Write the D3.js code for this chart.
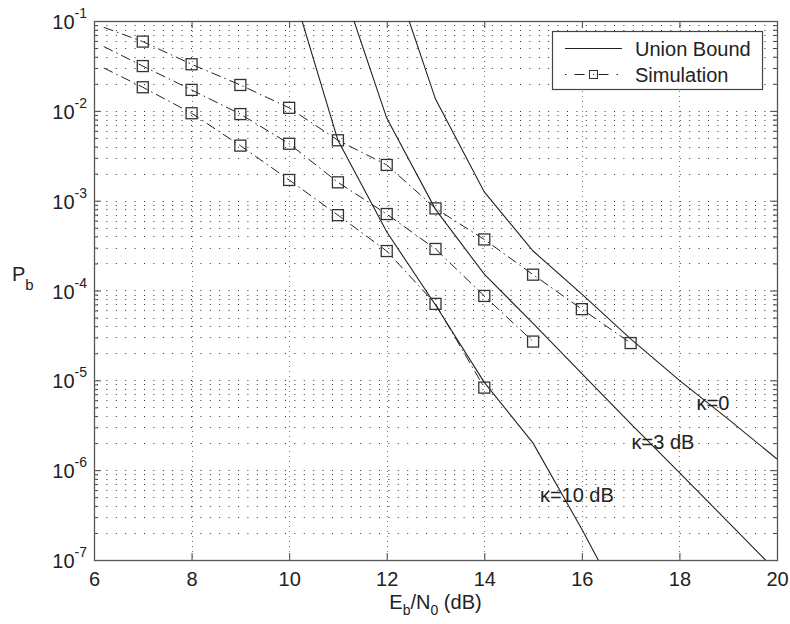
<!DOCTYPE html>
<html>
<head>
<meta charset="utf-8">
<script src="https://cdn.jsdelivr.net/npm/d3@7"></script>
<style>
  body { margin: 0; background: #fff; }
  svg { display: block; }
</style>
</head>
<body>
<script>
// -----------------------------
// Data
// -----------------------------

// Simulation points, Eb/N0 in dB
const simEbNo = [7, 8, 9, 10, 11, 12, 13, 14, 15, 16, 17];
const simKappa0 = [0.059, 0.033, 0.0194, 0.0108, 0.0047, 0.0025, 8.2e-4, 3.7e-4, 1.5e-4, 6.2e-5, 2.6e-5];
const simKappa3 = [0.0315, 0.0171, 0.0092, 0.0043, 0.0016, 7.1e-4, 2.9e-4, 8.7e-5, 2.7e-5];
const simKappa10 = [0.0183, 0.0094, 0.0041, 0.0017, 6.9e-4, 2.75e-4, 7.1e-5, 8.3e-6];

// where the simulation lines start, left of the first marker
const simLineStartEbNo = 6.2;
const simLineStart = [0.085, 0.052, 0.030];

// Union bound curves
const ubEbNo0 = [12, 13, 14, 15, 16, 17, 18, 19, 20];
const ubKappa0 = [0.55, 0.0135, 1.25e-3, 2.75e-4, 9.1e-5, 2.9e-5, 1.0e-5, 3.7e-6, 1.33e-6];
const ubEbNo3 = [11, 12, 13, 14, 15, 16, 17, 18, 19, 20];
const ubKappa3 = [0.34, 8.3e-3, 8.0e-4, 1.52e-4, 4.3e-5, 1.19e-5, 3.3e-6, 9.4e-7, 2.64e-7, 7.4e-8];
const ubEbNo10 = [10, 11, 12, 13, 14, 15, 16, 17];
const ubKappa10 = [0.3, 4.7e-3, 4.5e-4, 6.9e-5, 9.5e-6, 2.0e-6, 2.2e-7, 2.1e-8];

// Axis ticks
const xTickValues = [6, 8, 10, 12, 14, 16, 18, 20];
const yDecadeExponents = [-1, -2, -3, -4, -5, -6, -7];

// Curve labels (text and where they sit, in data units)
const curveLabels = ["\u03BA=0", "\u03BA=3 dB", "\u03BA=10 dB"];
const curveLabelEbNo = [18.35, 17.02, 15.14];
const curveLabelPb = [4.66e-6, 1.71e-6, 4.4e-7];

// -----------------------------
// SVG Setup
// -----------------------------

const WIDTH = 790;
const HEIGHT = 624;
const FONT = "'Liberation Sans', Arial, Helvetica, sans-serif";
const INK = "#222";

const PLOT = { left: 94, right: 777, top: 21, bottom: 560 };

const svg = d3.select("body")
  .append("svg")
  .attr("width", WIDTH)
  .attr("height", HEIGHT)
  .attr("viewBox", `0 0 ${WIDTH} ${HEIGHT}`)
  .style("font-family", FONT);

const x = d3.scaleLinear()
  .domain([6, 20])
  .range([PLOT.left, PLOT.right]);

const y = d3.scaleLog()
  .domain([1e-7, 1e-1])
  .range([PLOT.bottom, PLOT.top]);

// clip for the curves
svg.append("defs")
  .append("clipPath")
  .attr("id", "plot-clip")
  .append("rect")
  .attr("x", PLOT.left)
  .attr("y", PLOT.top)
  .attr("width", PLOT.right - PLOT.left)
  .attr("height", PLOT.bottom - PLOT.top);

// -----------------------------
// Grid
// -----------------------------

function drawGrid() {
  const grid = svg.append("g").attr("class", "grid");

  // every 1..9 x 10^k inside the domain
  const yGrid = y.ticks().filter(d => d > 1e-7 * 1.001 && d < 1e-1 * 0.999);

  grid.selectAll("line.h")
    .data(yGrid)
    .join("line")
    .attr("class", "h")
    .attr("x1", PLOT.left + 3)
    .attr("x2", PLOT.right)
    .attr("y1", d => Math.round(y(d)) + 0.5)
    .attr("y2", d => Math.round(y(d)) + 0.5)
    .attr("stroke", "#333")
    .attr("stroke-width", 1)
    .attr("stroke-dasharray", "1,8.4");

  grid.selectAll("line.v")
    .data(xTickValues.slice(1, -1))
    .join("line")
    .attr("class", "v")
    .attr("x1", d => Math.round(x(d)) + 0.5)
    .attr("x2", d => Math.round(x(d)) + 0.5)
    .attr("y1", PLOT.top)
    .attr("y2", PLOT.bottom)
    .attr("stroke", "#777")
    .attr("stroke-width", 1)
    .attr("stroke-dasharray", "1,4");
}

drawGrid();

// -----------------------------
// Axes and frame
// -----------------------------

function drawAxes() {
  const majors = yDecadeExponents.map(e => Math.pow(10, e));
  const minors = y.ticks().filter(d => !majors.some(m => Math.abs(m - d) / m < 1e-6));

  // bottom axis with labels
  const bottom = svg.append("g")
    .attr("transform", `translate(0,${PLOT.bottom})`)
    .call(d3.axisBottom(x)
      .tickValues(xTickValues)
      .tickSizeInner(-7)
      .tickSizeOuter(0)
      .tickPadding(12)
      .tickFormat(d3.format("d")));
  bottom.select(".domain").remove();
  bottom.selectAll(".tick line").attr("stroke", "#444");
  bottom.selectAll(".tick text")
    .attr("font-family", FONT)
    .attr("font-size", 20)
    .attr("fill", INK)
    .attr("dy", "0.72em");

  // top axis, ticks only
  const top = svg.append("g")
    .attr("transform", `translate(0,${PLOT.top})`)
    .call(d3.axisTop(x).tickValues(xTickValues).tickSizeInner(-7).tickSizeOuter(0).tickFormat(""));
  top.select(".domain").remove();
  top.selectAll(".tick line").attr("stroke", "#444");

  // left axis, majors + minors
  const left = svg.append("g")
    .attr("transform", `translate(${PLOT.left},0)`)
    .call(d3.axisLeft(y).tickValues(majors).tickSizeInner(-7).tickSizeOuter(0).tickFormat(""));
  left.select(".domain").remove();
  left.selectAll(".tick line").attr("stroke", "#444");

  const leftMinor = svg.append("g")
    .attr("transform", `translate(${PLOT.left},0)`)
    .call(d3.axisLeft(y).tickValues(minors).tickSizeInner(-4).tickSizeOuter(0).tickFormat(""));
  leftMinor.select(".domain").remove();
  leftMinor.selectAll(".tick line").attr("stroke", "#444");

  // right axis, majors + minors
  const right = svg.append("g")
    .attr("transform", `translate(${PLOT.right},0)`)
    .call(d3.axisRight(y).tickValues(majors).tickSizeInner(-7).tickSizeOuter(0).tickFormat(""));
  right.select(".domain").remove();
  right.selectAll(".tick line").attr("stroke", "#444");

  const rightMinor = svg.append("g")
    .attr("transform", `translate(${PLOT.right},0)`)
    .call(d3.axisRight(y).tickValues(minors).tickSizeInner(-4).tickSizeOuter(0).tickFormat(""));
  rightMinor.select(".domain").remove();
  rightMinor.selectAll(".tick line").attr("stroke", "#444");

  // y tick labels as 10^k with a raised exponent
  const labels = svg.append("g").attr("class", "y-labels");
  yDecadeExponents.forEach(e => {
    const t = labels.append("text")
      .attr("x", PLOT.left - 7)
      .attr("y", y(Math.pow(10, e)) + 8)
      .attr("text-anchor", "end")
      .attr("font-size", 20)
      .attr("fill", INK);
    t.append("tspan").text("10");
    t.append("tspan")
      .attr("dy", -11)
      .attr("font-size", 14)
      .text(`-${-e}`);
  });

  // frame
  svg.append("rect")
    .attr("x", PLOT.left + 0.5)
    .attr("y", PLOT.top + 0.5)
    .attr("width", PLOT.right - PLOT.left)
    .attr("height", PLOT.bottom - PLOT.top)
    .attr("fill", "none")
    .attr("stroke", "#555")
    .attr("stroke-width", 1.3);

  // x label
  const xl = svg.append("text")
    .attr("x", (PLOT.left + PLOT.right) / 2)
    .attr("y", 609)
    .attr("text-anchor", "middle")
    .attr("font-size", 20)
    .attr("fill", INK);
  xl.append("tspan").text("E");
  xl.append("tspan").attr("dy", 6).attr("font-size", 14).text("b");
  xl.append("tspan").attr("dy", -6).text("/N");
  xl.append("tspan").attr("dy", 6).attr("font-size", 14).text("0");
  xl.append("tspan").attr("dy", -6).text(" (dB)");

  // y label
  const yl = svg.append("text")
    .attr("x", 12)
    .attr("y", 281)
    .attr("font-size", 20)
    .attr("fill", INK);
  yl.append("tspan").text("P");
  yl.append("tspan").attr("dy", 9).attr("font-size", 15).text("b");
}

drawAxes();

// -----------------------------
// Curves
// -----------------------------

const line = d3.line()
  .x(d => x(d[0]))
  .y(d => y(d[1]));

function drawCurves() {
  const curves = svg.append("g").attr("clip-path", "url(#plot-clip)");

  // union bounds, solid
  const ubSeries = [
    d3.zip(ubEbNo0, ubKappa0),
    d3.zip(ubEbNo3, ubKappa3),
    d3.zip(ubEbNo10, ubKappa10)
  ];
  curves.selectAll("path.ub")
    .data(ubSeries)
    .join("path")
    .attr("class", "ub")
    .attr("d", line)
    .attr("fill", "none")
    .attr("stroke", INK)
    .attr("stroke-width", 1.1);

  // simulations, dash-dot with square markers
  const simSeries = [simKappa0, simKappa3, simKappa10].map(vals => d3.zip(simEbNo.slice(0, vals.length), vals));

  curves.selectAll("path.sim")
    .data(simSeries)
    .join("path")
    .attr("class", "sim")
    .attr("d", (d, i) => line([[simLineStartEbNo, simLineStart[i]], ...d]))
    .attr("fill", "none")
    .attr("stroke", INK)
    .attr("stroke-width", 1)
    .attr("stroke-dasharray", "10,4,1.5,4");

  const MARKER = 11;
  curves.selectAll("g.markers")
    .data(simSeries)
    .join("g")
    .attr("class", "markers")
    .selectAll("rect")
    .data(d => d)
    .join("rect")
    .attr("x", d => x(d[0]) - MARKER / 2)
    .attr("y", d => y(d[1]) - MARKER / 2)
    .attr("width", MARKER)
    .attr("height", MARKER)
    .attr("fill", "none")
    .attr("stroke", "#333")
    .attr("stroke-width", 1.3);

  // kappa labels
  svg.append("g")
    .selectAll("text")
    .data(curveLabels)
    .join("text")
    .attr("x", (d, i) => x(curveLabelEbNo[i]))
    .attr("y", (d, i) => y(curveLabelPb[i]))
    .attr("font-size", 20)
    .attr("fill", INK)
    .text(d => d);
}

drawCurves();

// -----------------------------
// Legend
// -----------------------------

function drawLegend() {
  const LEG = { x: 552.5, y: 31.5, w: 210, h: 58 };
  const legend = svg.append("g").attr("class", "legend");

  legend.append("rect")
    .attr("x", LEG.x)
    .attr("y", LEG.y)
    .attr("width", LEG.w)
    .attr("height", LEG.h)
    .attr("fill", "#fff")
    .attr("stroke", "#444")
    .attr("stroke-width", 1.2);

  const entries = ["Union Bound", "Simulation"];
  const rowY = [48.5, 74.5];

  legend.selectAll("text")
    .data(entries)
    .join("text")
    .attr("x", 635)
    .attr("y", (d, i) => rowY[i] + 7)
    .attr("font-size", 20)
    .attr("fill", INK)
    .text(d => d);

  legend.append("line")
    .attr("x1", 565).attr("x2", 622)
    .attr("y1", rowY[0]).attr("y2", rowY[0])
    .attr("stroke", INK);

  legend.append("line")
    .attr("x1", 565).attr("x2", 622)
    .attr("y1", rowY[1]).attr("y2", rowY[1])
    .attr("stroke", INK)
    .attr("stroke-dasharray", "1.5,8,10,14,10,8");

  legend.append("rect")
    .attr("x", 593.5 - 4)
    .attr("y", rowY[1] - 4)
    .attr("width", 8)
    .attr("height", 8)
    .attr("fill", "#fff")
    .attr("stroke", "#333");

  legend.append("rect")
    .attr("x", 593)
    .attr("y", rowY[1] - 0.5)
    .attr("width", 1)
    .attr("height", 1)
    .attr("fill", "#333");
}

drawLegend();
</script>
</body>
</html>
